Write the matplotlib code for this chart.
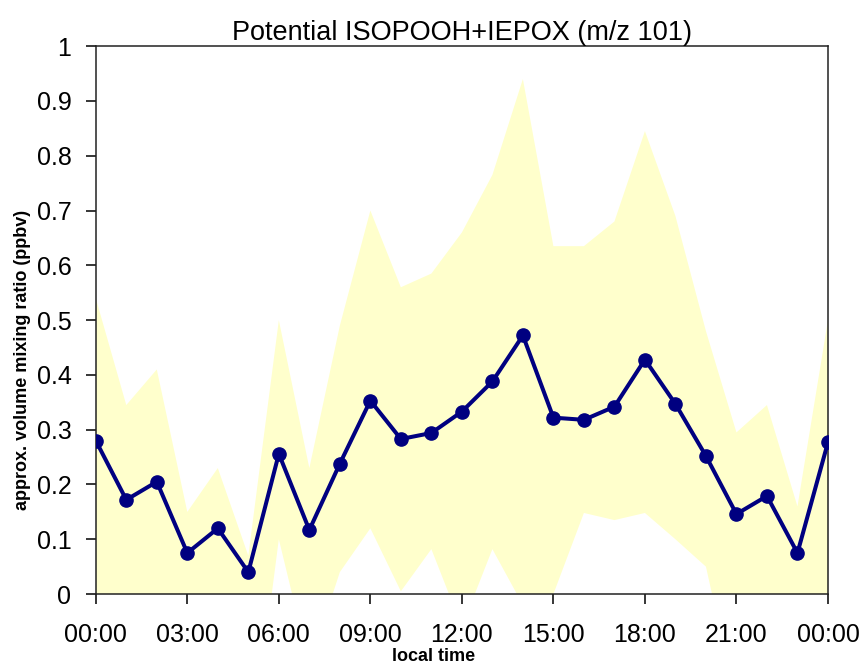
import matplotlib
matplotlib.use('Agg')
import matplotlib.pyplot as plt
import matplotlib.ticker as mticker

# hourly values, local time 00:00 .. 24:00
hours = list(range(25))
mean_vals = [0.280, 0.172, 0.205, 0.075, 0.120, 0.040, 0.256, 0.117, 0.238, 0.353,
             0.283, 0.294, 0.333, 0.388, 0.472, 0.322, 0.318, 0.342, 0.428, 0.347,
             0.252, 0.146, 0.179, 0.075, 0.277]
upper_vals = [0.540, 0.345, 0.410, 0.150, 0.230, 0.070, 0.500, 0.230, 0.490, 0.700,
              0.560, 0.585, 0.660, 0.765, 0.940, 0.635, 0.635, 0.680, 0.845, 0.690,
              0.480, 0.295, 0.345, 0.160, 0.500]
lower_vals = [-0.20, -0.20, -0.20, -0.20, -0.20, -0.33, 0.100, -0.13, 0.040, 0.120,
              0.005, 0.082, -0.06, 0.082, -0.02, 0.000, 0.148, 0.135, 0.148, 0.100,
              0.050, -0.20, -0.20, -0.20, -0.20]

tick_hours = [0, 3, 6, 9, 12, 15, 18, 21, 24]
tick_labels = ['00:00', '03:00', '06:00', '09:00', '12:00', '15:00', '18:00', '21:00', '00:00']

plt.rcParams['font.family'] = ['Liberation Sans', 'DejaVu Sans']

fig = plt.figure(figsize=(8.63, 6.69), dpi=100)
ax = fig.add_axes([0.111, 0.112, 0.8484, 0.819])

ax.fill_between(hours, lower_vals, upper_vals, color='#ffffcc', linewidth=0, zorder=1)
ax.plot(hours, mean_vals, color='#000080', linewidth=2.9, marker='o',
        markersize=9.5, zorder=3)

ax.set_xlim(0, 24)
ax.set_ylim(0, 1)
ax.set_xticks(tick_hours)
ax.set_xticklabels(tick_labels)
ax.set_yticks([i / 10 for i in range(11)])
ax.yaxis.set_major_formatter(mticker.FuncFormatter(lambda v, p: '%g' % round(v, 1)))

ax.tick_params(axis='both', direction='out', length=7.5, width=1.1, labelsize=18)
ax.tick_params(axis='x', pad=13)
ax.tick_params(axis='y', pad=10)
for s in ax.spines.values():
    s.set_linewidth(1.1)
    s.set_color('#222222')

ax.set_title('Potential ISOPOOH+IEPOX (m/z 101)', fontsize=19.5, pad=4)
ax.set_ylabel('approx. volume mixing ratio (ppbv)', fontsize=13, fontweight='bold')
ax.yaxis.set_label_coords(-0.089, 0.427)
ax.set_xlabel('local time', fontsize=13, fontweight='bold', va='top')
ax.xaxis.set_label_coords(0.462, -0.098)

fig.savefig('out.png', dpi=100)
